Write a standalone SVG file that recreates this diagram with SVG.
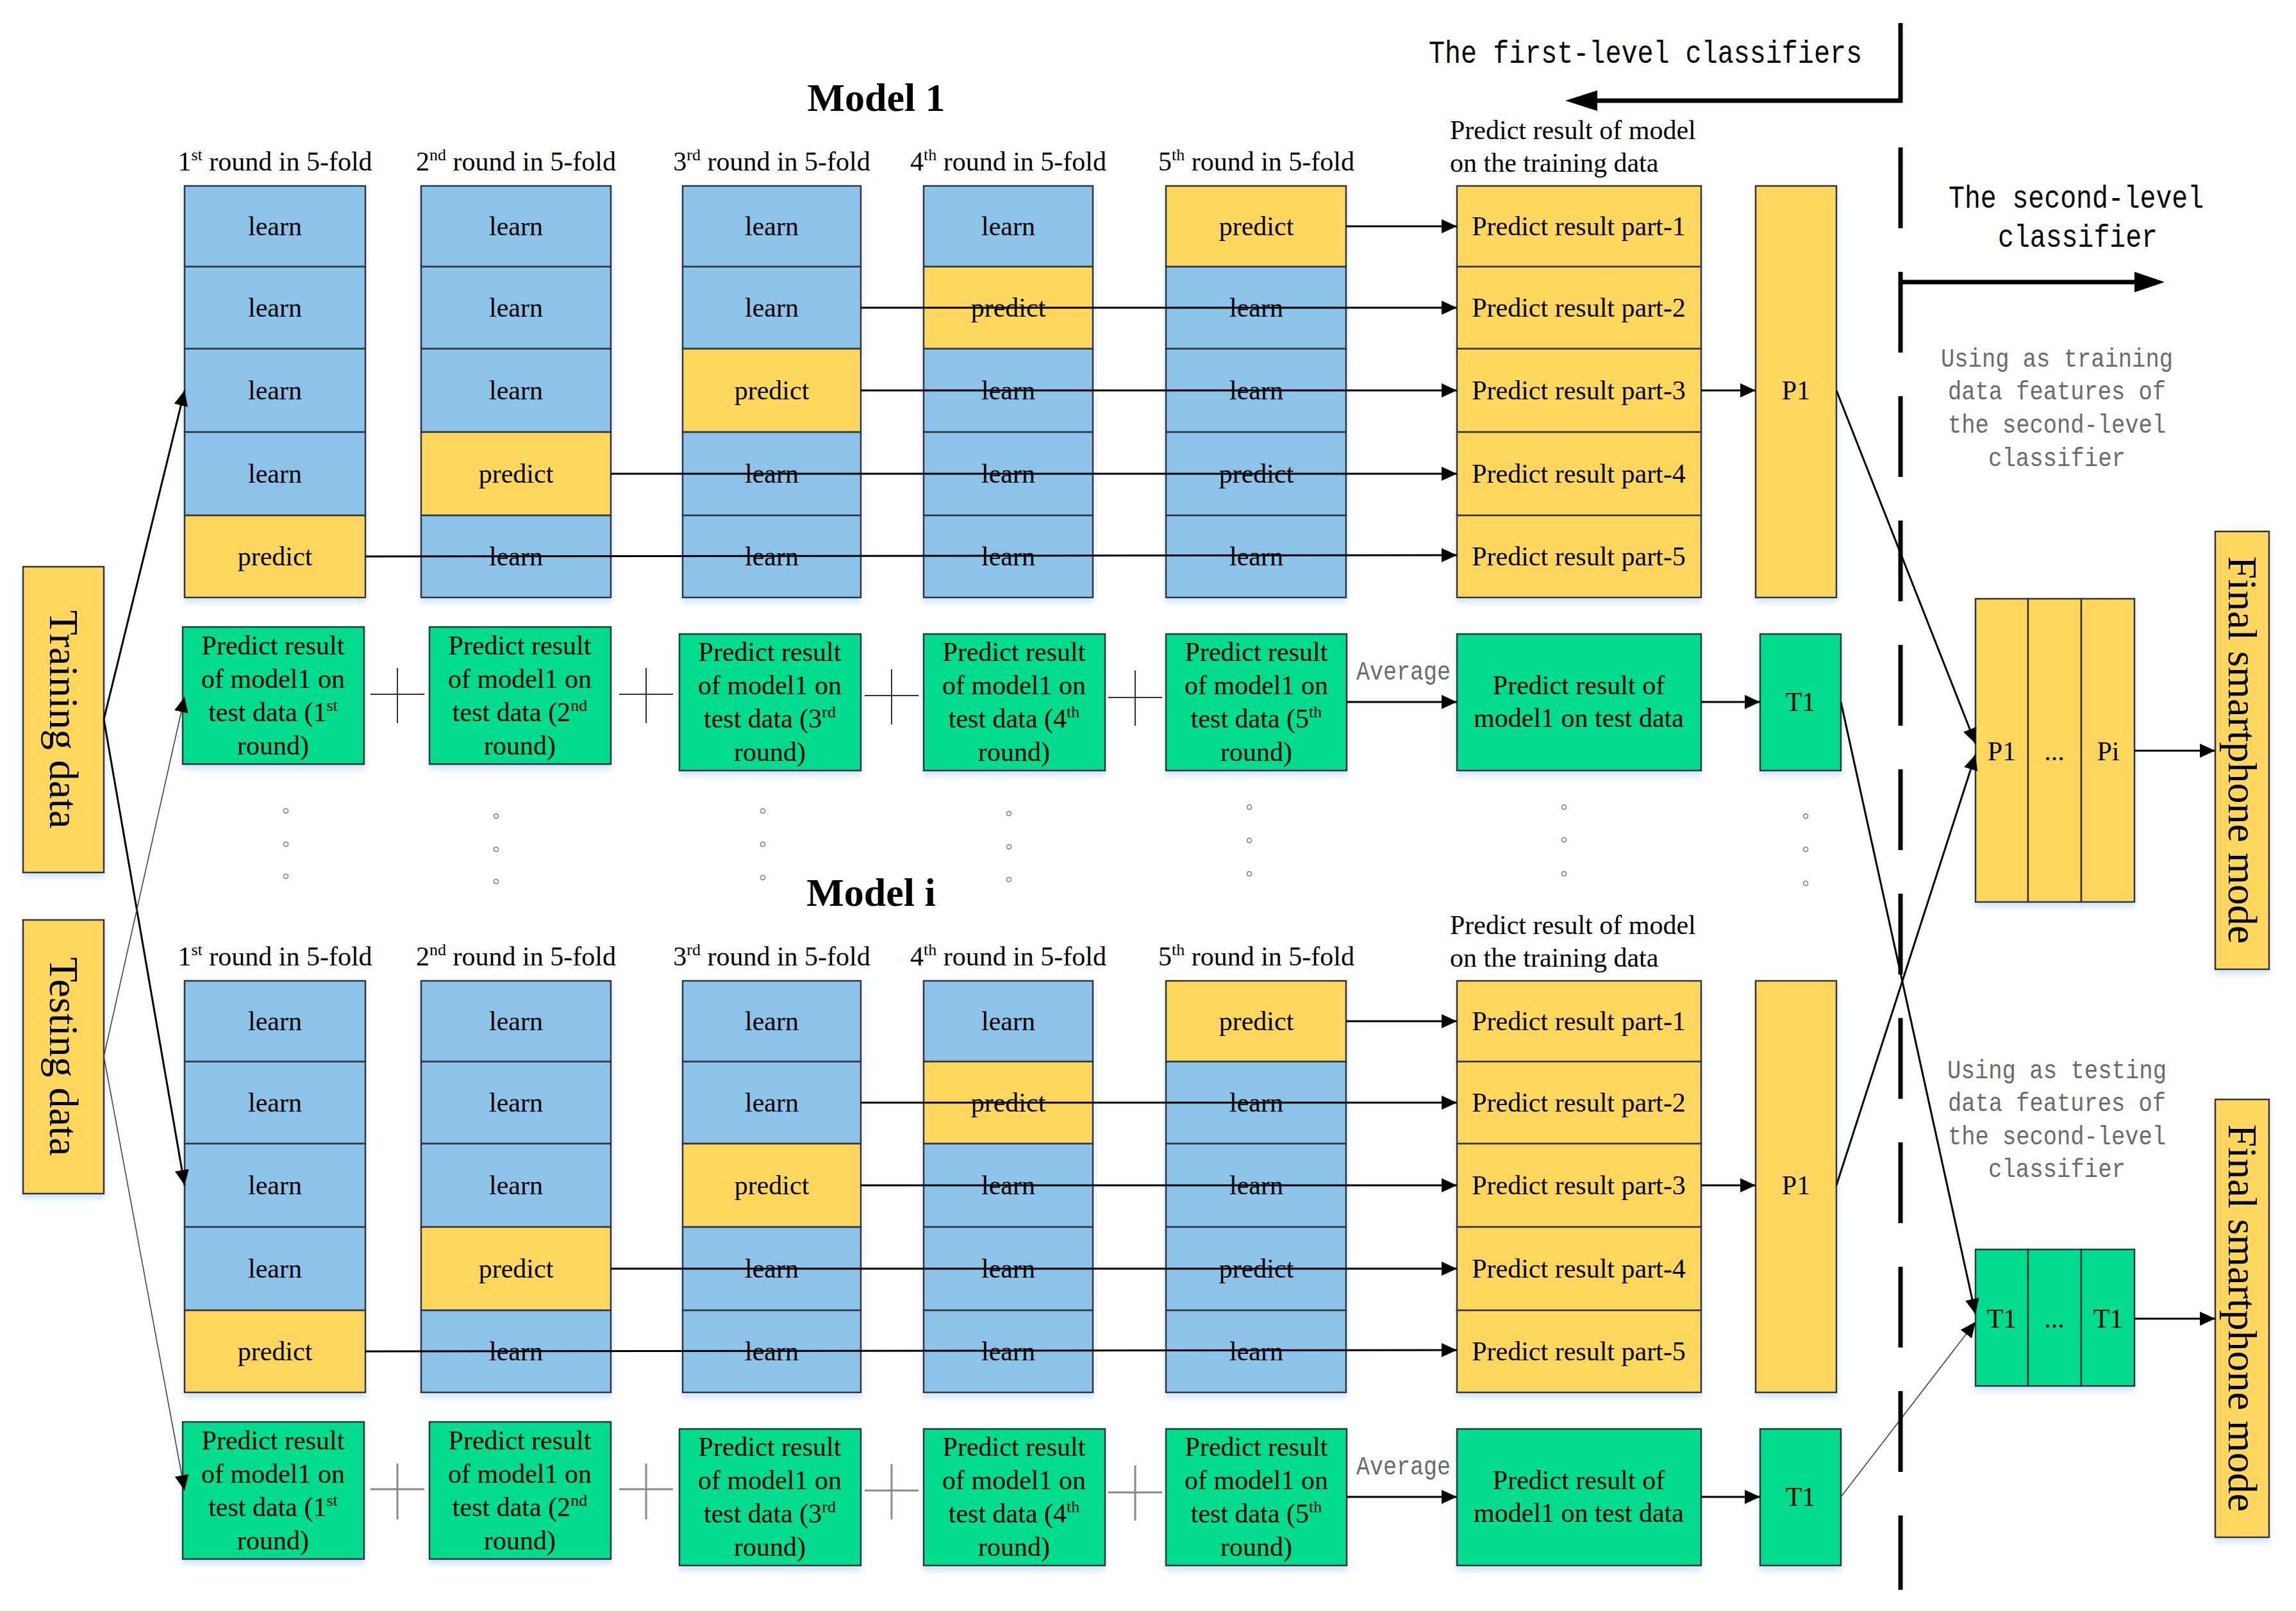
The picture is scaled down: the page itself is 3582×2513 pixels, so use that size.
<svg xmlns="http://www.w3.org/2000/svg" width="3582" height="2513" viewBox="0 0 3582 2513">
<style>
.b{stroke:#2f3540;stroke-width:2.5}
.bl{fill:#8DC3E8}
.ye{fill:#FFD75F}
.gr{fill:#00DC8C}
text{font-family:"Liberation Serif","Times New Roman",serif;fill:#000}
.t{font-size:42px;text-anchor:middle}
.lab{font-size:42px}
.sup{font-size:26px}
.ttl{font-size:62px;font-weight:bold;text-anchor:middle}
text.mono,.mono text{font-family:"Liberation Mono","DejaVu Sans Mono",monospace}
text.gry,.gry text{fill:#6a6a6a}
.big{font-size:64px;text-anchor:middle}
.ln{stroke:#000;stroke-width:3;fill:none}
.thin{stroke:#444;stroke-width:1.6;fill:none}
.pl{stroke:#333;stroke-width:2}
.pl2{stroke:#888;stroke-width:3}
.dot{fill:none;stroke:#7a7a7a;stroke-width:1.5}
</style>
<defs>
<marker id="ah" markerUnits="userSpaceOnUse" markerWidth="26" markerHeight="24" refX="24" refY="11" orient="auto"><path d="M0,0 L24,11 L0,22 Z" fill="#000"/></marker>
<filter id="sh" x="-10%" y="-10%" width="120%" height="130%"><feDropShadow dx="0" dy="7" stdDeviation="4" flood-color="#9cc6ee" flood-opacity="0.45"/></filter>
</defs>
<rect width="3582" height="2513" fill="#fff"/>

<!-- Section titles -->
<text class="ttl" x="1367" y="173">Model 1</text>
<text class="ttl" x="1359" y="1413">Model i</text>

<!-- ===== MODEL 1 ===== -->
<g id="m1-headers">
<text class="t" x="429" y="266">1<tspan class="sup" dy="-16">st</tspan><tspan dy="16"> round in 5-fold</tspan></text>
<text class="t" x="805" y="266">2<tspan class="sup" dy="-16">nd</tspan><tspan dy="16"> round in 5-fold</tspan></text>
<text class="t" x="1204" y="266">3<tspan class="sup" dy="-16">rd</tspan><tspan dy="16"> round in 5-fold</tspan></text>
<text class="t" x="1573" y="266">4<tspan class="sup" dy="-16">th</tspan><tspan dy="16"> round in 5-fold</tspan></text>
<text class="t" x="1960" y="266">5<tspan class="sup" dy="-16">th</tspan><tspan dy="16"> round in 5-fold</tspan></text>
<text class="lab" x="2262" y="217">Predict result of model</text>
<text class="lab" x="2262" y="268">on the training data</text>
</g>

<g id="m1-fold1" filter="url(#sh)">
<rect class="b bl" x="288" y="290" width="282" height="126"/>
<rect class="b bl" x="288" y="416" width="282" height="128"/>
<rect class="b bl" x="288" y="544" width="282" height="130"/>
<rect class="b bl" x="288" y="674" width="282" height="130"/>
<rect class="b ye" x="288" y="804" width="282" height="128"/>
</g>
<g id="m1-fold1-txt">
<text class="t" x="429" y="367">learn</text><text class="t" x="429" y="494">learn</text><text class="t" x="429" y="623">learn</text><text class="t" x="429" y="753">learn</text><text class="t" x="429" y="882">predict</text>
</g>
<g id="m1-fold2" filter="url(#sh)">
<rect class="b bl" x="657" y="290" width="296" height="126"/>
<rect class="b bl" x="657" y="416" width="296" height="128"/>
<rect class="b bl" x="657" y="544" width="296" height="130"/>
<rect class="b ye" x="657" y="674" width="296" height="130"/>
<rect class="b bl" x="657" y="804" width="296" height="128"/>
</g>
<g id="m1-fold2-txt">
<text class="t" x="805" y="367">learn</text><text class="t" x="805" y="494">learn</text><text class="t" x="805" y="623">learn</text><text class="t" x="805" y="753">predict</text><text class="t" x="805" y="882">learn</text>
</g>
<g id="m1-fold3" filter="url(#sh)">
<rect class="b bl" x="1065" y="290" width="278" height="126"/>
<rect class="b bl" x="1065" y="416" width="278" height="128"/>
<rect class="b ye" x="1065" y="544" width="278" height="130"/>
<rect class="b bl" x="1065" y="674" width="278" height="130"/>
<rect class="b bl" x="1065" y="804" width="278" height="128"/>
</g>
<g id="m1-fold3-txt">
<text class="t" x="1204" y="367">learn</text><text class="t" x="1204" y="494">learn</text><text class="t" x="1204" y="623">predict</text><text class="t" x="1204" y="753">learn</text><text class="t" x="1204" y="882">learn</text>
</g>
<g id="m1-fold4" filter="url(#sh)">
<rect class="b bl" x="1441" y="290" width="264" height="126"/>
<rect class="b ye" x="1441" y="416" width="264" height="128"/>
<rect class="b bl" x="1441" y="544" width="264" height="130"/>
<rect class="b bl" x="1441" y="674" width="264" height="130"/>
<rect class="b bl" x="1441" y="804" width="264" height="128"/>
</g>
<g id="m1-fold4-txt">
<text class="t" x="1573" y="367">learn</text><text class="t" x="1573" y="494">predict</text><text class="t" x="1573" y="623">learn</text><text class="t" x="1573" y="753">learn</text><text class="t" x="1573" y="882">learn</text>
</g>
<g id="m1-fold5" filter="url(#sh)">
<rect class="b ye" x="1819" y="290" width="281" height="126"/>
<rect class="b bl" x="1819" y="416" width="281" height="128"/>
<rect class="b bl" x="1819" y="544" width="281" height="130"/>
<rect class="b bl" x="1819" y="674" width="281" height="130"/>
<rect class="b bl" x="1819" y="804" width="281" height="128"/>
</g>
<g id="m1-fold5-txt">
<text class="t" x="1960" y="367">predict</text><text class="t" x="1960" y="494">learn</text><text class="t" x="1960" y="623">learn</text><text class="t" x="1960" y="753">predict</text><text class="t" x="1960" y="882">learn</text>
</g>
<g id="m1-parts" filter="url(#sh)">
<rect class="b ye" x="2273" y="290" width="381" height="126"/>
<rect class="b ye" x="2273" y="416" width="381" height="128"/>
<rect class="b ye" x="2273" y="544" width="381" height="130"/>
<rect class="b ye" x="2273" y="674" width="381" height="130"/>
<rect class="b ye" x="2273" y="804" width="381" height="128"/>
</g>
<g id="m1-parts-txt">
<text class="t" x="2463" y="367">Predict result part-1</text><text class="t" x="2463" y="494">Predict result part-2</text><text class="t" x="2463" y="623">Predict result part-3</text><text class="t" x="2463" y="753">Predict result part-4</text><text class="t" x="2463" y="882">Predict result part-5</text>
</g>
<g id="m1-P1"><rect class="b ye" filter="url(#sh)" x="2739" y="290" width="126" height="642"/><text class="t" x="2802" y="623">P1</text></g>

<g id="m1-test">
<g filter="url(#sh)">
<rect class="b gr" x="285" y="978" width="283" height="214"/>
<rect class="b gr" x="670" y="978" width="283" height="214"/>
<rect class="b gr" x="1060" y="989" width="283" height="213"/>
<rect class="b gr" x="1441" y="989" width="283" height="213"/>
<rect class="b gr" x="1819" y="989" width="282" height="213"/>
<rect class="b gr" x="2273" y="989" width="381" height="213"/>
<rect class="b gr" x="2746" y="989" width="126" height="213"/>
</g>
<text class="t" x="426" y="1021">Predict result</text><text class="t" x="426" y="1073">of model1 on</text><text class="t" x="426" y="1125">test data (1<tspan class="sup" dy="-16">st</tspan></text><text class="t" x="426" y="1177">round)</text>
<text class="t" x="811" y="1021">Predict result</text><text class="t" x="811" y="1073">of model1 on</text><text class="t" x="811" y="1125">test data (2<tspan class="sup" dy="-16">nd</tspan></text><text class="t" x="811" y="1177">round)</text>
<text class="t" x="1201" y="1031">Predict result</text><text class="t" x="1201" y="1083">of model1 on</text><text class="t" x="1201" y="1135">test data (3<tspan class="sup" dy="-16">rd</tspan></text><text class="t" x="1201" y="1187">round)</text>
<text class="t" x="1582" y="1031">Predict result</text><text class="t" x="1582" y="1083">of model1 on</text><text class="t" x="1582" y="1135">test data (4<tspan class="sup" dy="-16">th</tspan></text><text class="t" x="1582" y="1187">round)</text>
<text class="t" x="1960" y="1031">Predict result</text><text class="t" x="1960" y="1083">of model1 on</text><text class="t" x="1960" y="1135">test data (5<tspan class="sup" dy="-16">th</tspan></text><text class="t" x="1960" y="1187">round)</text>
<text class="t" x="2463" y="1083">Predict result of</text><text class="t" x="2463" y="1134">model1 on test data</text>
<text class="t" x="2809" y="1109">T1</text>
<path class="pl" d="M578,1083 H662 M620,1042 V1128 M966,1083 H1050 M1008,1042 V1128 M1349,1085 H1433 M1391,1044 V1130 M1729,1088 H1813 M1771,1046 V1132"/>
<text class="mono gry" x="2116" y="1060" font-size="40" textLength="147" lengthAdjust="spacingAndGlyphs">Average</text>
</g>

<!-- ===== MODEL i ===== -->
<g id="mi-headers">
<text class="t" x="429" y="1506">1<tspan class="sup" dy="-16">st</tspan><tspan dy="16"> round in 5-fold</tspan></text>
<text class="t" x="805" y="1506">2<tspan class="sup" dy="-16">nd</tspan><tspan dy="16"> round in 5-fold</tspan></text>
<text class="t" x="1204" y="1506">3<tspan class="sup" dy="-16">rd</tspan><tspan dy="16"> round in 5-fold</tspan></text>
<text class="t" x="1573" y="1506">4<tspan class="sup" dy="-16">th</tspan><tspan dy="16"> round in 5-fold</tspan></text>
<text class="t" x="1960" y="1506">5<tspan class="sup" dy="-16">th</tspan><tspan dy="16"> round in 5-fold</tspan></text>
<text class="lab" x="2262" y="1457">Predict result of model</text>
<text class="lab" x="2262" y="1508">on the training data</text>
</g>

<g id="mi-fold1" filter="url(#sh)">
<rect class="b bl" x="288" y="1530" width="282" height="126"/>
<rect class="b bl" x="288" y="1656" width="282" height="128"/>
<rect class="b bl" x="288" y="1784" width="282" height="130"/>
<rect class="b bl" x="288" y="1914" width="282" height="130"/>
<rect class="b ye" x="288" y="2044" width="282" height="128"/>
</g>
<g id="mi-fold1-txt">
<text class="t" x="429" y="1607">learn</text><text class="t" x="429" y="1734">learn</text><text class="t" x="429" y="1863">learn</text><text class="t" x="429" y="1993">learn</text><text class="t" x="429" y="2122">predict</text>
</g>
<g id="mi-fold2" filter="url(#sh)">
<rect class="b bl" x="657" y="1530" width="296" height="126"/>
<rect class="b bl" x="657" y="1656" width="296" height="128"/>
<rect class="b bl" x="657" y="1784" width="296" height="130"/>
<rect class="b ye" x="657" y="1914" width="296" height="130"/>
<rect class="b bl" x="657" y="2044" width="296" height="128"/>
</g>
<g id="mi-fold2-txt">
<text class="t" x="805" y="1607">learn</text><text class="t" x="805" y="1734">learn</text><text class="t" x="805" y="1863">learn</text><text class="t" x="805" y="1993">predict</text><text class="t" x="805" y="2122">learn</text>
</g>
<g id="mi-fold3" filter="url(#sh)">
<rect class="b bl" x="1065" y="1530" width="278" height="126"/>
<rect class="b bl" x="1065" y="1656" width="278" height="128"/>
<rect class="b ye" x="1065" y="1784" width="278" height="130"/>
<rect class="b bl" x="1065" y="1914" width="278" height="130"/>
<rect class="b bl" x="1065" y="2044" width="278" height="128"/>
</g>
<g id="mi-fold3-txt">
<text class="t" x="1204" y="1607">learn</text><text class="t" x="1204" y="1734">learn</text><text class="t" x="1204" y="1863">predict</text><text class="t" x="1204" y="1993">learn</text><text class="t" x="1204" y="2122">learn</text>
</g>
<g id="mi-fold4" filter="url(#sh)">
<rect class="b bl" x="1441" y="1530" width="264" height="126"/>
<rect class="b ye" x="1441" y="1656" width="264" height="128"/>
<rect class="b bl" x="1441" y="1784" width="264" height="130"/>
<rect class="b bl" x="1441" y="1914" width="264" height="130"/>
<rect class="b bl" x="1441" y="2044" width="264" height="128"/>
</g>
<g id="mi-fold4-txt">
<text class="t" x="1573" y="1607">learn</text><text class="t" x="1573" y="1734">predict</text><text class="t" x="1573" y="1863">learn</text><text class="t" x="1573" y="1993">learn</text><text class="t" x="1573" y="2122">learn</text>
</g>
<g id="mi-fold5" filter="url(#sh)">
<rect class="b ye" x="1819" y="1530" width="281" height="126"/>
<rect class="b bl" x="1819" y="1656" width="281" height="128"/>
<rect class="b bl" x="1819" y="1784" width="281" height="130"/>
<rect class="b bl" x="1819" y="1914" width="281" height="130"/>
<rect class="b bl" x="1819" y="2044" width="281" height="128"/>
</g>
<g id="mi-fold5-txt">
<text class="t" x="1960" y="1607">predict</text><text class="t" x="1960" y="1734">learn</text><text class="t" x="1960" y="1863">learn</text><text class="t" x="1960" y="1993">predict</text><text class="t" x="1960" y="2122">learn</text>
</g>
<g id="mi-parts" filter="url(#sh)">
<rect class="b ye" x="2273" y="1530" width="381" height="126"/>
<rect class="b ye" x="2273" y="1656" width="381" height="128"/>
<rect class="b ye" x="2273" y="1784" width="381" height="130"/>
<rect class="b ye" x="2273" y="1914" width="381" height="130"/>
<rect class="b ye" x="2273" y="2044" width="381" height="128"/>
</g>
<g id="mi-parts-txt">
<text class="t" x="2463" y="1607">Predict result part-1</text><text class="t" x="2463" y="1734">Predict result part-2</text><text class="t" x="2463" y="1863">Predict result part-3</text><text class="t" x="2463" y="1993">Predict result part-4</text><text class="t" x="2463" y="2122">Predict result part-5</text>
</g>
<g id="mi-P1"><rect class="b ye" filter="url(#sh)" x="2739" y="1530" width="126" height="642"/><text class="t" x="2802" y="1863">P1</text></g>

<g id="mi-test">
<g filter="url(#sh)">
<rect class="b gr" x="285" y="2218" width="283" height="214"/>
<rect class="b gr" x="670" y="2218" width="283" height="214"/>
<rect class="b gr" x="1060" y="2229" width="283" height="213"/>
<rect class="b gr" x="1441" y="2229" width="283" height="213"/>
<rect class="b gr" x="1819" y="2229" width="282" height="213"/>
<rect class="b gr" x="2273" y="2229" width="381" height="213"/>
<rect class="b gr" x="2746" y="2229" width="126" height="213"/>
</g>
<text class="t" x="426" y="2261">Predict result</text><text class="t" x="426" y="2313">of model1 on</text><text class="t" x="426" y="2365">test data (1<tspan class="sup" dy="-16">st</tspan></text><text class="t" x="426" y="2417">round)</text>
<text class="t" x="811" y="2261">Predict result</text><text class="t" x="811" y="2313">of model1 on</text><text class="t" x="811" y="2365">test data (2<tspan class="sup" dy="-16">nd</tspan></text><text class="t" x="811" y="2417">round)</text>
<text class="t" x="1201" y="2271">Predict result</text><text class="t" x="1201" y="2323">of model1 on</text><text class="t" x="1201" y="2375">test data (3<tspan class="sup" dy="-16">rd</tspan></text><text class="t" x="1201" y="2427">round)</text>
<text class="t" x="1582" y="2271">Predict result</text><text class="t" x="1582" y="2323">of model1 on</text><text class="t" x="1582" y="2375">test data (4<tspan class="sup" dy="-16">th</tspan></text><text class="t" x="1582" y="2427">round)</text>
<text class="t" x="1960" y="2271">Predict result</text><text class="t" x="1960" y="2323">of model1 on</text><text class="t" x="1960" y="2375">test data (5<tspan class="sup" dy="-16">th</tspan></text><text class="t" x="1960" y="2427">round)</text>
<text class="t" x="2463" y="2323">Predict result of</text><text class="t" x="2463" y="2374">model1 on test data</text>
<text class="t" x="2809" y="2349">T1</text>
<path class="pl2" d="M578,2323 H662 M620,2283 V2370 M966,2323 H1050 M1008,2283 V2370 M1349,2325 H1433 M1391,2284 V2370 M1729,2328 H1813 M1771,2286 V2372"/>
<text class="mono gry" x="2116" y="2300" font-size="40" textLength="147" lengthAdjust="spacingAndGlyphs">Average</text>
</g>

<!-- vertical ellipsis dots -->
<g id="dots">
<circle class="dot" cx="446" cy="1265" r="3.5"/><circle class="dot" cx="446" cy="1317" r="3.5"/><circle class="dot" cx="446" cy="1367" r="3.5"/>
<circle class="dot" cx="774" cy="1273" r="3.5"/><circle class="dot" cx="774" cy="1325" r="3.5"/><circle class="dot" cx="774" cy="1375" r="3.5"/>
<circle class="dot" cx="1190" cy="1265" r="3.5"/><circle class="dot" cx="1190" cy="1317" r="3.5"/><circle class="dot" cx="1190" cy="1369" r="3.5"/>
<circle class="dot" cx="1574" cy="1269" r="3.5"/><circle class="dot" cx="1574" cy="1321" r="3.5"/><circle class="dot" cx="1574" cy="1372" r="3.5"/>
<circle class="dot" cx="1949" cy="1259" r="3.5"/><circle class="dot" cx="1949" cy="1311" r="3.5"/><circle class="dot" cx="1949" cy="1363" r="3.5"/>
<circle class="dot" cx="2440" cy="1259" r="3.5"/><circle class="dot" cx="2440" cy="1310" r="3.5"/><circle class="dot" cx="2440" cy="1363" r="3.5"/>
<circle class="dot" cx="2817" cy="1273" r="3.5"/><circle class="dot" cx="2817" cy="1325" r="3.5"/><circle class="dot" cx="2817" cy="1378" r="3.5"/>
</g>

<!-- Input nodes -->
<g id="training-data"><rect class="b ye" filter="url(#sh)" x="36" y="884" width="126" height="477"/><text class="big" transform="translate(99,1122) rotate(90)" dy="0.33em">Training data</text></g>
<g id="testing-data"><rect class="b ye" filter="url(#sh)" x="36" y="1435" width="126" height="427"/><text class="big" transform="translate(99,1648) rotate(90)" dy="0.33em">Testing data</text></g>

<!-- Second level -->
<g id="P-stack">
<g filter="url(#sh)"><rect class="b ye" x="3082" y="934" width="82" height="473"/><rect class="b ye" x="3164" y="934" width="83" height="473"/><rect class="b ye" x="3247" y="934" width="83" height="473"/></g>
<text class="t" x="3123" y="1186">P1</text><text class="t" x="3205" y="1186">...</text><text class="t" x="3289" y="1186">Pi</text>
</g>
<g id="T-stack">
<g filter="url(#sh)"><rect class="b gr" x="3082" y="1949" width="82" height="213"/><rect class="b gr" x="3164" y="1949" width="83" height="213"/><rect class="b gr" x="3247" y="1949" width="83" height="213"/></g>
<text class="t" x="3123" y="2071">T1</text><text class="t" x="3205" y="2071">...</text><text class="t" x="3289" y="2071">T1</text>
</g>
<g id="final-1"><rect class="b ye" filter="url(#sh)" x="3456" y="829" width="84" height="683"/><text class="big" transform="translate(3498,1170) rotate(90)" dy="0.33em">Final smartphone mode</text></g>
<g id="final-2"><rect class="b ye" filter="url(#sh)" x="3456" y="1715" width="84" height="683"/><text class="big" transform="translate(3498,2056) rotate(90)" dy="0.33em">Final smartphone mode</text></g>

<!-- Level labels -->
<g id="level-labels">
<text class="mono" x="2229" y="98" font-size="50" textLength="676" lengthAdjust="spacingAndGlyphs">The first-level classifiers</text>
<text class="mono" x="3040" y="324" font-size="50" textLength="398" lengthAdjust="spacingAndGlyphs">The second-level</text>
<text class="mono" x="3117" y="385" font-size="50" textLength="249" lengthAdjust="spacingAndGlyphs">classifier</text>
<g font-size="40" text-anchor="middle">
<text class="mono gry" x="3209" y="572" textLength="362" lengthAdjust="spacingAndGlyphs">Using as training</text>
<text class="mono gry" x="3209" y="623" textLength="340" lengthAdjust="spacingAndGlyphs">data features of</text>
<text class="mono gry" x="3209" y="675" textLength="340" lengthAdjust="spacingAndGlyphs">the second-level</text>
<text class="mono gry" x="3209" y="727" textLength="214" lengthAdjust="spacingAndGlyphs">classifier</text>
<text class="mono gry" x="3209" y="1682" textLength="342" lengthAdjust="spacingAndGlyphs">Using as testing</text>
<text class="mono gry" x="3209" y="1733" textLength="340" lengthAdjust="spacingAndGlyphs">data features of</text>
<text class="mono gry" x="3209" y="1785" textLength="340" lengthAdjust="spacingAndGlyphs">the second-level</text>
<text class="mono gry" x="3209" y="1836" textLength="214" lengthAdjust="spacingAndGlyphs">classifier</text>
</g>
</g>

<!-- Connectors -->
<g id="connectors">
<line class="ln" x1="2100" y1="353" x2="2273" y2="353" marker-end="url(#ah)"/>
<line class="ln" x1="1343" y1="480" x2="2273" y2="480" marker-end="url(#ah)"/>
<line class="ln" x1="1343" y1="609" x2="2273" y2="609" marker-end="url(#ah)"/>
<line class="ln" x1="953" y1="739" x2="2273" y2="739" marker-end="url(#ah)"/>
<line class="ln" x1="570" y1="868" x2="2273" y2="866" marker-end="url(#ah)"/>
<line class="ln" x1="2654" y1="609" x2="2739" y2="609" marker-end="url(#ah)"/>
<line class="ln" x1="2101" y1="1095" x2="2273" y2="1095" marker-end="url(#ah)"/>
<line class="ln" x1="2654" y1="1095" x2="2746" y2="1095" marker-end="url(#ah)"/>

<line class="ln" x1="2100" y1="1593" x2="2273" y2="1593" marker-end="url(#ah)"/>
<line class="ln" x1="1343" y1="1720" x2="2273" y2="1720" marker-end="url(#ah)"/>
<line class="ln" x1="1343" y1="1849" x2="2273" y2="1849" marker-end="url(#ah)"/>
<line class="ln" x1="953" y1="1979" x2="2273" y2="1979" marker-end="url(#ah)"/>
<line class="ln" x1="570" y1="2108" x2="2273" y2="2106" marker-end="url(#ah)"/>
<line class="ln" x1="2654" y1="1849" x2="2739" y2="1849" marker-end="url(#ah)"/>
<line class="ln" x1="2101" y1="2335" x2="2273" y2="2335" marker-end="url(#ah)"/>
<line class="ln" x1="2654" y1="2335" x2="2746" y2="2335" marker-end="url(#ah)"/>

<line class="ln" x1="162" y1="1122" x2="288" y2="609" marker-end="url(#ah)"/>
<line class="ln" x1="162" y1="1122" x2="288" y2="1849" marker-end="url(#ah)"/>
<line class="thin" x1="162" y1="1648" x2="288" y2="1087" marker-end="url(#ah)"/>
<line class="thin" x1="162" y1="1648" x2="288" y2="2325" marker-end="url(#ah)"/>

<line class="ln" x1="2865" y1="609" x2="3082" y2="1160" marker-end="url(#ah)"/>
<line class="ln" x1="2865" y1="1849" x2="3082" y2="1177" marker-end="url(#ah)"/>
<line class="ln" x1="2872" y1="1095" x2="3082" y2="2050" marker-end="url(#ah)"/>
<line class="thin" x1="2872" y1="2335" x2="3082" y2="2062" marker-end="url(#ah)"/>
<line class="ln" x1="3330" y1="1171" x2="3456" y2="1171" marker-end="url(#ah)"/>
<line class="ln" x1="3330" y1="2057" x2="3456" y2="2057" marker-end="url(#ah)"/>

<!-- level divider -->
<path d="M2965,36 V157 H2490" fill="none" stroke="#000" stroke-width="7"/>
<polygon points="2442,157 2492,141 2492,173" fill="#000"/>
<line x1="2965" y1="230" x2="2965" y2="2480" stroke="#000" stroke-width="7" stroke-dasharray="126 68"/>
<line x1="2965" y1="440" x2="3332" y2="440" stroke="#000" stroke-width="7"/>
<polygon points="3377,440 3330,424 3330,456" fill="#000"/>
</g>
</svg>
